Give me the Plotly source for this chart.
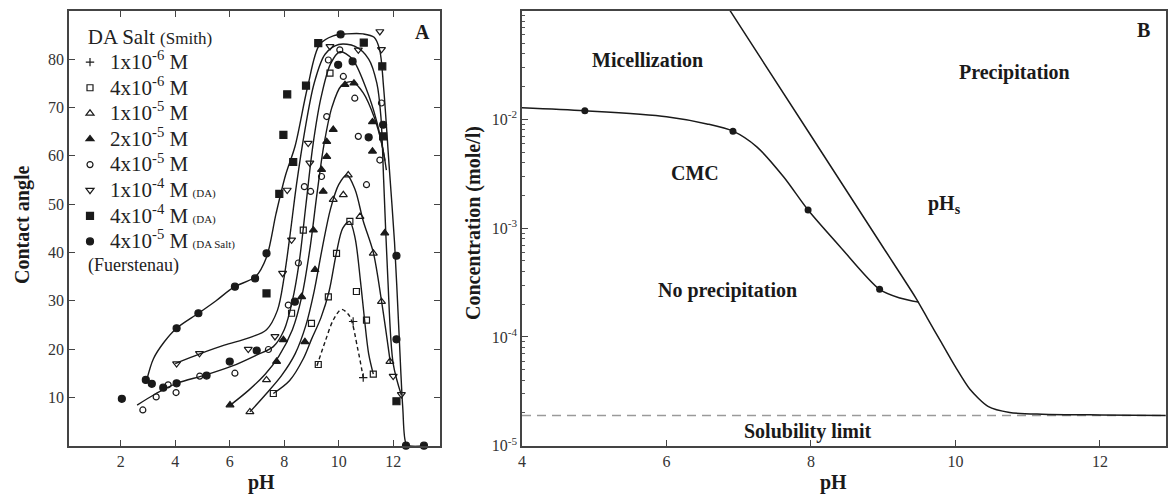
import plotly.graph_objects as go

FONT = "Liberation Serif, Times New Roman, serif"
INK = "#1a1a1a"

# ---------------- Panel A data (contact angle vs pH) ----------------
# markers
s1e6_x = [10.53, 10.9]
s1e6_y = [25.7, 14.1]
s4e6_x = [7.6, 8.27, 8.7, 9.0, 9.25, 9.62, 9.68, 9.92, 10.41, 10.65, 11.02, 11.27]
s4e6_y = [10.8, 27.4, 44.6, 25.3, 16.8, 30.8, 77.1, 39.8, 46.4, 31.9, 26.0, 14.8]
s1e5_x = [6.74, 7.35, 9.8, 10.17, 10.35, 10.78, 11.27, 11.57, 11.88]
s1e5_y = [7.0, 13.6, 50.9, 51.9, 56.0, 47.4, 39.8, 29.8, 17.4]
s2e5_x = [6.01, 7.72, 7.97, 8.64, 8.76, 9.07, 9.13, 9.37, 9.43, 9.56, 9.56, 9.8, 10.23, 10.56, 11.24, 11.24, 11.69]
s2e5_y = [8.4, 17.4, 21.9, 30.8, 21.5, 44.6, 36.4, 57.1, 52.6, 59.8, 62.9, 65.4, 74.7, 75.0, 67.0, 60.9, 44.0]
s4e5_x = [2.81, 3.3, 3.74, 4.03, 4.9, 6.19, 7.42, 8.15, 8.52, 8.74, 8.97, 9.37, 9.56, 9.62, 10.04, 10.17, 10.59, 10.72, 11.02, 11.51, 11.57]
s4e5_y = [7.4, 10.1, 12.6, 11.0, 14.4, 15.0, 19.9, 29.1, 37.8, 53.6, 52.6, 55.7, 68.1, 79.8, 81.9, 76.4, 71.9, 64.0, 54.0, 59.1, 70.9]
s1e4_x = [4.05, 4.89, 6.68, 7.66, 7.94, 8.11, 8.27, 8.88, 8.94, 9.68, 10.72, 11.51, 11.57, 12.0, 12.3]
s1e4_y = [17.0, 19.1, 20.0, 22.6, 35.7, 52.9, 42.6, 62.6, 58.5, 82.6, 81.9, 85.7, 82.0, 14.4, 10.6]
s4e4_x = [7.35, 7.82, 7.97, 8.11, 8.33, 8.8, 9.25, 10.92, 11.6, 11.63, 12.12]
s4e4_y = [31.5, 52.1, 64.3, 72.7, 58.7, 74.5, 83.3, 83.4, 78.5, 64.0, 9.2]
sF_x = [2.04, 2.92, 3.14, 3.56, 4.05, 4.05, 4.85, 5.15, 6.0, 6.19, 6.93, 6.99, 7.35, 8.39, 9.98, 10.07, 10.51, 11.1, 11.63, 12.12, 12.12, 12.47, 13.13]
sF_y = [9.7, 13.6, 12.8, 12.0, 12.9, 24.3, 27.4, 14.5, 17.4, 32.9, 34.6, 19.7, 39.8, 29.8, 78.8, 85.1, 79.5, 63.8, 66.4, 39.3, 22.0, 0.0, 0.0]

# fitted curves
cF_x = [2.95, 3.2, 3.6, 4.05, 4.85, 5.5, 6.15, 6.95, 7.35, 7.7, 8.05, 8.4, 8.85, 9.3, 9.8, 10.3, 10.9, 11.3, 11.5, 11.65, 11.85, 12.05, 12.2, 12.35, 12.47, 12.6, 13.2]
cF_y = [13.5, 18, 21.5, 24.3, 27.4, 30, 32.8, 35, 39, 48, 56, 62, 74, 83, 84.8, 85.2, 85.2, 84.5, 82, 74, 58, 42, 25, 8, 0.5, 0, 0]
c1e4_x = [4.0, 4.9, 5.8, 6.7, 7.35, 7.75, 8.0, 8.2, 8.45, 8.75, 9.1, 9.5, 10.0, 10.6, 11.1, 11.4, 11.55, 11.65, 11.8, 12.0, 12.3]
c1e4_y = [17, 19, 20.8, 22.3, 24, 28, 35, 43, 54, 65, 75, 81, 83, 82.6, 80, 75, 68, 55, 35, 17, 10.5]
c4e5_x = [2.6, 3.3, 4.05, 5.1, 6.1, 7.0, 7.6, 8.0, 8.3, 8.55, 8.8, 9.05, 9.35, 9.7, 10.05, 10.5, 11.0, 11.4, 11.7]
c4e5_y = [8.4, 10.8, 12.9, 14.6, 16.5, 18.8, 20.5, 24, 30, 38, 50, 62, 72, 79, 81.5, 80, 74, 67, 59]
c2e5_x = [6.0, 6.7, 7.3, 7.8, 8.3, 8.65, 8.95, 9.2, 9.45, 9.75, 10.1, 10.5, 10.9, 11.3, 11.6, 11.75]
c2e5_y = [8.3, 11.5, 14.8, 18.5, 24, 31, 41, 52, 62, 70, 74.5, 75.3, 73, 68, 62, 57]
c1e5_x = [6.74, 7.3, 7.9, 8.4, 8.8, 9.1, 9.4, 9.7, 10.0, 10.3, 10.6, 10.9, 11.27, 11.57, 11.9]
c1e5_y = [7.0, 10.5, 14.5, 19, 25, 32, 41, 49, 54, 56, 53, 46.5, 40, 30, 17]
c4e6_x = [7.6, 8.2, 8.7, 9.0, 9.35, 9.65, 9.92, 10.15, 10.4, 10.6, 10.8, 10.95, 11.1, 11.27]
c4e6_y = [10.8, 13.5, 18, 22, 26.5, 32, 40, 45, 46.4, 43, 34, 26, 19, 14.8]
c1e6_x = [9.2, 9.5, 9.8, 10.1, 10.4, 10.7, 10.9]
c1e6_y = [16.5, 21.5, 26, 28.2, 26.8, 20, 14.1]

A_xticks = [2, 4, 6, 8, 10, 12]
A_yticks = [10, 20, 30, 40, 50, 60, 70, 80]

# ---------------- Panel B data (concentration vs pH) ----------------
cmc_x = [4.0, 4.87, 6.0, 6.56, 6.92, 7.25, 7.62, 7.96, 8.4, 8.95, 9.23, 9.49]
cmc_y = [0.0128, 0.0120, 0.0106, 0.0091, 0.0078, 0.0056, 0.00297, 0.00147, 6.8e-4, 2.74e-4, 2.28e-4, 2.09e-4]
dots_x = [4.87, 6.92, 7.96, 8.95]
dots_y = [0.0120, 0.0078, 0.00147, 2.74e-4]
phs_x = [6.88, 8.0, 9.0, 9.45, 9.62, 9.8, 10.0, 10.2, 10.45, 10.75, 11.2, 12.0, 12.91]
phs_y = [0.1, 7.08e-3, 6.65e-4, 2.29e-4, 1.45e-4, 9.0e-5, 5.3e-5, 3.3e-5, 2.3e-5, 2.02e-5, 1.95e-5, 1.92e-5, 1.9e-5]
sol_x = [4.0, 12.91]
sol_y = [1.9e-5, 1.9e-5]
B_yticks = [1e-5, 1e-4, 1e-3, 1e-2, 1e-1]
B_yticktext = ["10<sup>-5</sup>", "10<sup>-4</sup>", "10<sup>-3</sup>", "10<sup>-2</sup>", "10<sup>-1</sup>"]
B_xticks = [4, 6, 8, 10, 12]

fig = go.Figure()

def curve(x, y, dash="solid"):
    fig.add_trace(go.Scatter(x=x, y=y, mode="lines", xaxis="x", yaxis="y",
                             line=dict(color=INK, width=1.4, shape="spline", smoothing=0.9, dash=dash),
                             showlegend=False, hoverinfo="skip"))

curve(cF_x, cF_y)
curve(c1e4_x, c1e4_y)
curve(c4e5_x, c4e5_y)
curve(c2e5_x, c2e5_y)
curve(c1e5_x, c1e5_y)
curve(c4e6_x, c4e6_y)
curve(c1e6_x, c1e6_y, dash="4px,3px")

def pts(x, y, name, symbol, size=7):
    fig.add_trace(go.Scatter(x=x, y=y, mode="markers", xaxis="x", yaxis="y", name=name,
                             cliponaxis=False,
                             marker=dict(symbol=symbol, size=size, color=INK,
                                         line=dict(color=INK, width=1.2))))

big = "<span style='font-size:21px'>%s</span>"
small = "<span style='font-size:11px'>(%s)</span>"
pts(s1e6_x, s1e6_y, big % "1x10<sup>-6</sup> M", "cross-thin", 6)
pts(s4e6_x, s4e6_y, big % "4x10<sup>-6</sup> M", "square-open", 6)
pts(s1e5_x, s1e5_y, big % "1x10<sup>-5</sup> M", "triangle-up-open", 7)
pts(s2e5_x, s2e5_y, big % "2x10<sup>-5</sup> M", "triangle-up", 7)
pts(s4e5_x, s4e5_y, big % "4x10<sup>-5</sup> M", "circle-open", 6)
pts(s1e4_x, s1e4_y, big % "1x10<sup>-4</sup> M" + " " + small % "DA", "triangle-down-open", 7)
pts(s4e4_x, s4e4_y, big % "4x10<sup>-4</sup> M" + " " + small % "DA", "square", 7)
pts(sF_x, sF_y, big % "4x10<sup>-5</sup> M" + " " + small % "DA Salt", "circle", 7)

# Panel B
fig.add_trace(go.Scatter(x=sol_x, y=sol_y, mode="lines", xaxis="x2", yaxis="y2",
                         line=dict(color="#9a9a9a", width=1.5, dash="9px,6px"),
                         showlegend=False, hoverinfo="skip"))
fig.add_trace(go.Scatter(x=cmc_x, y=cmc_y, mode="lines", xaxis="x2", yaxis="y2",
                         line=dict(color=INK, width=1.5, shape="spline", smoothing=0.8),
                         showlegend=False, hoverinfo="skip"))
fig.add_trace(go.Scatter(x=phs_x, y=phs_y, mode="lines", xaxis="x2", yaxis="y2",
                         line=dict(color=INK, width=1.5, shape="spline", smoothing=0.7),
                         showlegend=False, hoverinfo="skip"))
fig.add_trace(go.Scatter(x=dots_x, y=dots_y, mode="markers", xaxis="x2", yaxis="y2",
                         marker=dict(symbol="circle", size=7, color=INK),
                         showlegend=False, hoverinfo="skip"))

frame = dict(showline=True, linecolor="#444", linewidth=1.6, mirror="ticks",
             ticks="inside", ticklen=6, tickcolor="#444", tickwidth=1.2,
             showgrid=False, zeroline=False, automargin=False,
             tickfont=dict(family=FONT, size=16, color="#333"))

fig.update_layout(
    width=1168, height=495,
    margin=dict(l=0, r=0, t=0, b=0, autoexpand=False),
    paper_bgcolor="white", plot_bgcolor="white",
    font=dict(family=FONT, color=INK),
    xaxis=dict(domain=[69/1168, 439.5/1168], range=[0.1, 13.7], anchor="y",
               tickmode="array", tickvals=A_xticks, **frame),
    yaxis=dict(domain=[1-445.7/495, 1-10.7/495], range=[0, 90], anchor="x",
               tickmode="array", tickvals=A_yticks, **frame),
    xaxis2=dict(domain=[522/1168, 1166/1168], range=[4, 12.914], anchor="y2",
                tickmode="array", tickvals=B_xticks, **{**frame, "mirror": True}),
    yaxis2=dict(domain=[1-445.7/495, 1-10.7/495], type="log", range=[-5, -1], anchor="x2",
                tickmode="array", tickvals=B_yticks, ticktext=B_yticktext,
                minor=dict(ticks="inside", ticklen=3, tickcolor="#555",
                           tickvals=[m * 10**e for e in range(-5, -1) for m in range(2, 10)]),
                **{**frame, "mirror": True}),
    showlegend=True,
    legend=dict(x=70/1168, y=1-17/495, xanchor="left", yanchor="top",
                bgcolor="rgba(0,0,0,0)", borderwidth=0,
                font=dict(family=FONT, size=17.4, color="#222"),
                title=dict(text="&nbsp;&nbsp;&nbsp;DA Salt <span style='font-size:17px'>(Smith)</span>",
                           font=dict(family=FONT, size=21, color="#222"), side="top"),
                tracegroupgap=0, itemwidth=30),
)

ann = []
def text(t, x, y, size=20, bold=True, angle=0, color=INK, anchor="center"):
    ann.append(dict(text=("<b>%s</b>" % t) if bold else t, x=x, y=y, xref="paper", yref="paper",
                    showarrow=False, textangle=angle, xanchor=anchor, yanchor="middle",
                    font=dict(family=FONT, size=size, color=color)))

text("(Fuerstenau)", 86/1168, 1-265/495, size=18, bold=False, color="#222", anchor="left")
text("A", 422/1168, 1-32/495, size=20)
text("Contact angle", 22/1168, 1-225/495, size=20, angle=-90)
text("pH", 261/1168, 1-482/495, size=20)
text("pH", 833/1168, 1-482/495, size=20)
text("Concentration (mole/l)", 473/1168, 1-223/495, size=20, angle=-90)
text("Micellization", 647/1168, 1-60/495, size=20)
text("Precipitation", 1015/1168, 1-72/495, size=20)
text("CMC", 695/1168, 1-173/495, size=20)
text("pH<sub>s</sub>", 944/1168, 1-204/495, size=20)
text("No precipitation", 727/1168, 1-290/495, size=20)
text("Solubility limit", 808/1168, 1-431/495, size=20)
text("B", 1143/1168, 1-30/495, size=20)
fig.update_layout(annotations=ann)

fig.write_html("out.html")
